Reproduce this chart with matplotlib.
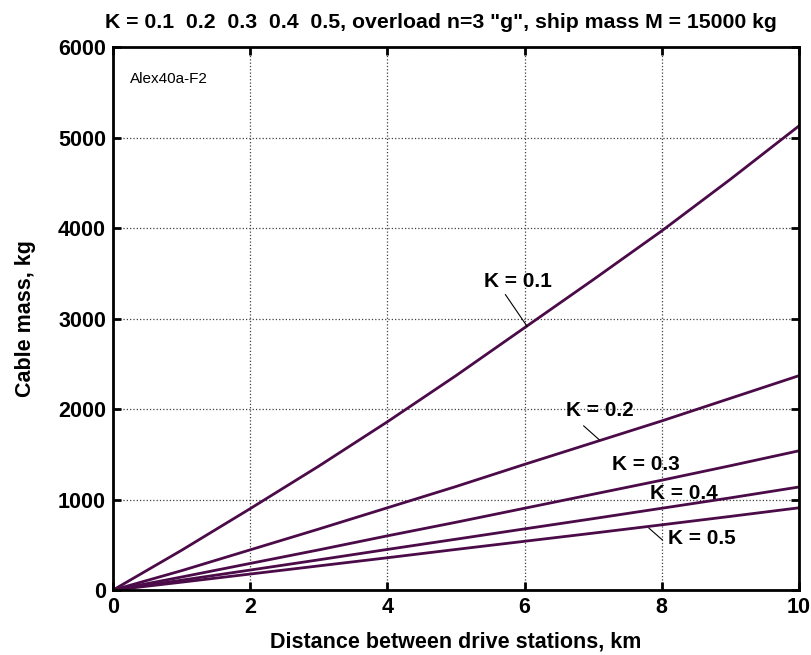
import matplotlib
matplotlib.use("Agg")
import matplotlib.pyplot as plt
import numpy as np

plt.rcParams['font.family'] = ['Liberation Sans', 'DejaVu Sans']

# distance between drive stations, km
dist = [0, 1, 2, 3, 4, 5, 6, 7, 8, 9, 10]
# cable mass, kg, for each K
k_labels = ['K = 0.1', 'K = 0.2', 'K = 0.3', 'K = 0.4', 'K = 0.5']
m_k01 = [0, 440, 900, 1370, 1860, 2370, 2900, 3430, 3970, 4540, 5130]
m_k02 = [0, 215, 445, 675, 910, 1145, 1390, 1630, 1870, 2120, 2370]
m_k03 = [0, 145, 295, 445, 600, 750, 905, 1060, 1215, 1375, 1540]
m_k04 = [0, 110, 222, 335, 450, 563, 677, 790, 905, 1020, 1140]
m_k05 = [0, 88, 178, 268, 358, 450, 540, 630, 722, 815, 910]

col = '#4b0a48'

fig = plt.figure(figsize=(8.12, 6.55), dpi=100)
ax = fig.add_axes([0.139, 0.099, 0.845, 0.829])

for m in [m_k01, m_k02, m_k03, m_k04, m_k05]:
    ax.plot(dist, m, color=col, lw=2)

ax.set_xlim(0, 10)
ax.set_ylim(0, 6000)
ax.set_xticks(range(0, 11, 2))
ax.set_yticks(range(0, 6001, 1000))
ax.grid(True, color='#404040', ls=':', lw=0.9)
ax.tick_params(direction='in', top=True, right=True, length=6, width=2,
               labelsize=15.5, pad=5)
for lab in ax.get_xticklabels() + ax.get_yticklabels():
    lab.set_fontweight('bold')
for s in ax.spines.values():
    s.set_linewidth(2)

ax.set_xlabel('Distance between drive stations, km', fontsize=15.5, fontweight='bold', labelpad=10)
ax.set_ylabel('Cable mass, kg', fontsize=15.5, fontweight='bold', labelpad=16)
ax.set_title('K = 0.1  0.2  0.3  0.4  0.5, overload n=3 "g", ship mass M = 15000 kg',
             fontsize=15.3, fontweight='bold', pad=14, x=0.478)

# labels with leader lines
ann = dict(fontsize=15, fontweight='bold', ha='center', va='center')
lead = dict(arrowstyle='-', color='k', lw=0.8, shrinkA=0, shrinkB=0)
ax.text(5.9, 3410, k_labels[0], **ann)
ax.annotate('', xy=(6.04, 2912), xytext=(5.72, 3267), arrowprops=lead)
ax.text(7.1, 1990, k_labels[1], **ann)
ax.annotate('', xy=(7.09, 1661), xytext=(6.86, 1816), arrowprops=lead)
ax.text(7.77, 1384, k_labels[2], **ann)
ax.text(8.32, 1063, k_labels[3], **ann)
ax.text(8.58, 576, k_labels[4], **ann)
ax.annotate('', xy=(7.81, 687), xytext=(8.01, 554), arrowprops=lead)

ax.text(0.25, 5650, 'Alex40a-F2', fontsize=11, va='center')

fig.savefig('out.png', dpi=100)
